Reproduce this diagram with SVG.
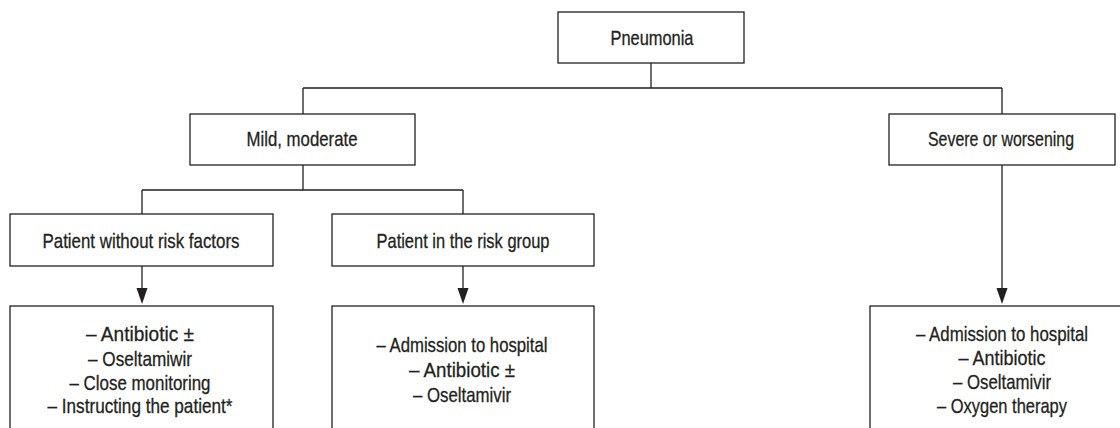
<svg xmlns="http://www.w3.org/2000/svg" width="1120" height="428" viewBox="0 0 1120 428">
<style>
.box{fill:#fff;stroke:#231f20;stroke-width:1.3}
.ln{fill:none;stroke:#231f20;stroke-width:1.3}
text{font-family:"Liberation Sans Narrow","Liberation Sans",Arial,sans-serif;font-size:21px;fill:#231f20;stroke:#231f20;stroke-width:0.3;text-anchor:middle}
</style>
<g id="connectors">
<path class="ln" d="M651,63 V88 M303,88 H1002 M303,88 V114 M1002,88 V114"/>
<path class="ln" d="M303,165 V190 M142,190 H463 M142,190 V214 M463,190 V214"/>
<path class="ln" d="M142,266 V288"/>
<path class="ln" d="M463,266 V288"/>
<path class="ln" d="M1002,165 V288"/>
<path d="M136.5,288 H147.5 L142,304 Z" fill="#231f20"/>
<path d="M457.5,288 H468.5 L463,304 Z" fill="#231f20"/>
<path d="M996.5,288 H1007.5 L1002,304 Z" fill="#231f20"/>
</g>
<g id="pneumonia">
<rect class="box" x="558" y="12" width="186" height="51"/>
<text x="652" y="44.5" textLength="83" lengthAdjust="spacingAndGlyphs">Pneumonia</text>
</g>
<g id="mild">
<rect class="box" x="190" y="114" width="225" height="51"/>
<text x="302" y="146" textLength="111" lengthAdjust="spacingAndGlyphs">Mild, moderate</text>
</g>
<g id="severe">
<rect class="box" x="889" y="114" width="226" height="51"/>
<text x="1001" y="146" textLength="146" lengthAdjust="spacingAndGlyphs">Severe or worsening</text>
</g>
<g id="no-risk">
<rect class="box" x="10" y="214" width="263" height="52"/>
<text x="141" y="247.5" textLength="197" lengthAdjust="spacingAndGlyphs">Patient without risk factors</text>
</g>
<g id="risk">
<rect class="box" x="332" y="214" width="262" height="52"/>
<text x="463" y="247.5" textLength="173" lengthAdjust="spacingAndGlyphs">Patient in the risk group</text>
</g>
<g id="no-risk-treatment">
<rect class="box" x="10" y="306" width="263" height="140"/>
<text x="140" y="341" textLength="108" lengthAdjust="spacingAndGlyphs">– Antibiotic ±</text>
<text x="140" y="365.5" textLength="104" lengthAdjust="spacingAndGlyphs">– Oseltamiwir</text>
<text x="140" y="389.5" textLength="141" lengthAdjust="spacingAndGlyphs">– Close monitoring</text>
<text x="140" y="413" textLength="185" lengthAdjust="spacingAndGlyphs">– Instructing the patient*</text>
</g>
<g id="risk-treatment">
<rect class="box" x="332" y="306" width="262" height="140"/>
<text x="462" y="352" textLength="171" lengthAdjust="spacingAndGlyphs">– Admission to hospital</text>
<text x="462" y="377" textLength="106" lengthAdjust="spacingAndGlyphs">– Antibiotic ±</text>
<text x="462" y="401.5" textLength="98" lengthAdjust="spacingAndGlyphs">– Oseltamivir</text>
</g>
<g id="severe-treatment">
<rect class="box" x="870" y="306" width="251" height="140"/>
<text x="1002" y="340.5" textLength="172" lengthAdjust="spacingAndGlyphs">– Admission to hospital</text>
<text x="1002" y="365" textLength="87" lengthAdjust="spacingAndGlyphs">– Antibiotic</text>
<text x="1002" y="389" textLength="98" lengthAdjust="spacingAndGlyphs">– Oseltamivir</text>
<text x="1002" y="413" textLength="130" lengthAdjust="spacingAndGlyphs">– Oxygen therapy</text>
</g>
</svg>
